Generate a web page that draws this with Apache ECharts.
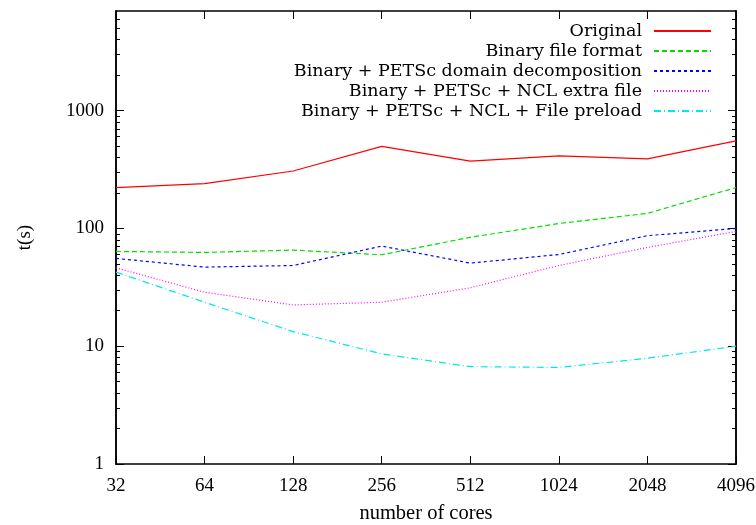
<!DOCTYPE html>
<html>
<head>
<meta charset="utf-8">
<script src="https://cdn.jsdelivr.net/npm/echarts@6/dist/echarts.min.js"></script>
<style>html,body{margin:0;padding:0;background:#fff}#c{width:756px;height:525px}</style>
</head>
<body>
<div id="c"></div>
<script>
const categories = ['32', '64', '128', '256', '512', '1024', '2048', '4096'];
const seriesNames = [
  'Original',
  'Binary file format',
  'Binary + PETSc domain decomposition',
  'Binary + PETSc + NCL extra file',
  'Binary + PETSc + NCL + File preload'
];
const original = [222, 240, 307, 496, 372, 412, 389, 553];
const binary = [63.7, 62.5, 65.4, 59.7, 84, 110, 134, 222];
const petsc = [55.6, 46.9, 48.4, 70.7, 50.7, 60, 86.7, 100];
const ncl = [46.3, 28.7, 22.4, 23.6, 31.3, 48.4, 68.9, 94.3];
const preload = [42.5, 23.6, 13.3, 8.6, 6.7, 6.6, 7.9, 10];
const yMajorTicks = [1, 10, 100, 1000];
const yMinorTicks = [2, 3, 4, 5, 6, 7, 8, 9, 20, 30, 40, 50, 60, 70, 80, 90,
  200, 300, 400, 500, 600, 700, 800, 900, 2000, 3000, 4000, 5000, 6000];
const yMin = 1, yMax = 7000;

const font = 'Liberation Serif';
const legendFont = 'DejaVu Serif';
const axisLine = { show: true, lineStyle: { color: '#000', width: 1.5 } };

function yAx(pos, major, showLabel) {
  return {
    type: 'log', logBase: 10, min: yMin, max: yMax, position: pos,
    axisLine: axisLine,
    splitLine: { show: false },
    axisTick: { show: true, inside: true, length: major ? 8 : 4,
      customValues: major ? yMajorTicks : yMinorTicks,
      lineStyle: { color: '#000', width: 1 } },
    axisLabel: { show: showLabel, customValues: yMajorTicks, fontFamily: font, fontSize: 19, color: '#000', margin: 12,
      formatter: v => String(Math.round(v)) },
    name: showLabel ? 't(s)' : '',
    nameLocation: 'middle', nameGap: 81, nameRotate: 90,
    nameTextStyle: { fontFamily: font, fontSize: 19, color: '#000' }
  };
}

const lineDefs = [
  { name: seriesNames[0], data: original, color: '#ff0000', type: 'solid' },
  { name: seriesNames[1], data: binary, color: '#00e000', type: [5, 3] },
  { name: seriesNames[2], data: petsc, color: '#0000ff', type: [3, 3] },
  { name: seriesNames[3], data: ncl, color: '#ff00ff', type: [1, 2] },
  { name: seriesNames[4], data: preload, color: '#00e8e8', type: [7, 3, 1, 3] }
];

const chart = echarts.init(document.getElementById('c'));
chart.setOption({
  animation: false,
  backgroundColor: '#fff',
  grid: { left: 116, right: 20, top: 11, bottom: 61, outerBoundsMode: 'none', containLabel: false },
  legend: {
    orient: 'vertical', right: 44, top: 22, align: 'right', padding: 0,
    itemWidth: 57, itemHeight: 10, itemGap: 2,
    itemStyle: { opacity: 0 },
    textStyle: { fontFamily: legendFont, fontSize: 17.5, color: '#000', padding: [0, 7, 0, 0] },
    data: seriesNames
  },
  xAxis: [
    { type: 'category', data: categories, boundaryGap: false, position: 'bottom',
      axisLine: axisLine,
      axisTick: { show: true, inside: true, length: 8, lineStyle: { color: '#000' } },
      axisLabel: { fontFamily: font, fontSize: 19, color: '#000', margin: 13 },
      name: 'number of cores', nameLocation: 'middle', nameGap: 39,
      nameTextStyle: { fontFamily: font, fontSize: 20.5, color: '#000' } },
    { type: 'category', data: categories, boundaryGap: false, position: 'top',
      axisLine: axisLine,
      axisTick: { show: true, inside: true, length: 8, lineStyle: { color: '#000' } },
      axisLabel: { show: false } }
  ],
  yAxis: [
    yAx('left', true, true),
    yAx('left', false, false),
    yAx('right', true, false),
    yAx('right', false, false)
  ],
  series: lineDefs.map(d => ({
    name: d.name, type: 'line', data: d.data, xAxisIndex: 0, yAxisIndex: 0,
    symbol: 'none', smooth: false,
    itemStyle: { color: d.color },
    lineStyle: { color: d.color, width: 1.2, type: d.type }
  }))
});
</script>
</body>
</html>
